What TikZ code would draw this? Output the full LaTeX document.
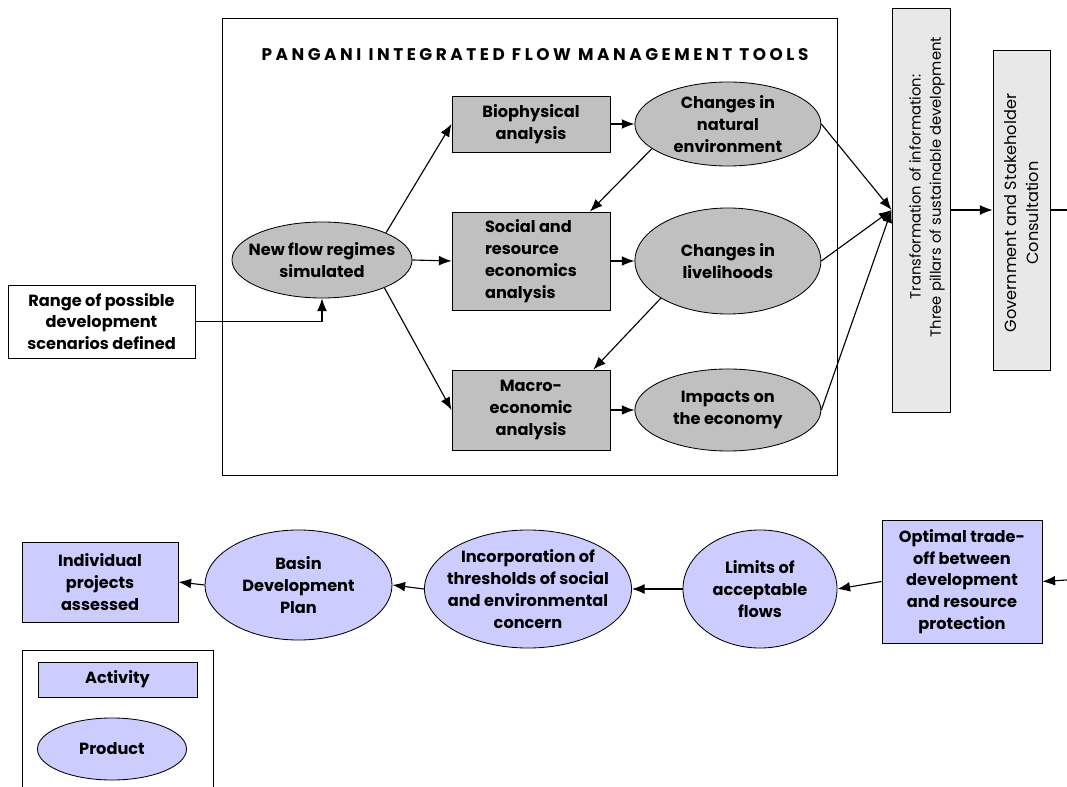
\documentclass[tikz,border=0pt]{standalone}
\usepackage{fontspec}
\setmainfont{Poppins}
\usetikzlibrary{positioning,arrows.meta,shapes.geometric}
\definecolor{toolgray}{HTML}{C0C0C0}
\definecolor{palegray}{HTML}{E8E8E8}
\definecolor{lavender}{HTML}{CCCCFF}
\newcommand{\boxfont}{\fontsize{11.5}{15.5}\selectfont\bfseries}
\tikzset{
  line/.style={-{Latex[length=9pt,width=7pt]}, line width=0.8pt},
  box/.style={draw, align=center, inner sep=2pt, font=\boxfont, line width=0.6pt},
  toolbox/.style={box, fill=toolgray, minimum width=3.95cm},
  actbox/.style={box, fill=lavender},
  oval/.style={ellipse, draw, align=center, inner sep=-30pt, font=\boxfont, line width=0.6pt},
  tooloval/.style={oval, fill=toolgray, minimum width=4.65cm},
  prodoval/.style={oval, fill=lavender},
  tallbox/.style={draw, rotate=90, fill=palegray, line width=0.6pt},
  talltext/.style={rotate=90, align=center, font=\fontsize{10.5}{14.5}\selectfont}
}
\begin{document}
\begin{tikzpicture}[x=0.025cm, y=-0.025cm]
  \useasboundingbox (0,0) rectangle (1067,787);
  % tools frame
  \draw[line width=0.6pt] (222,18) rectangle (837,475);
  \node[font=\fontsize{12}{15.5}\selectfont\bfseries\addfontfeature{LetterSpace=21}] (title) at (535,55) {PANGANI INTEGRATED FLOW MANAGEMENT TOOLS};

  \node[tooloval, minimum width=4.5cm, minimum height=1.9cm] (newflow) at (322,260) {New flow regimes\\simulated};
  \node[toolbox, minimum height=1.4cm] (bio) at (531,124) {Biophysical\\analysis};
  \node[toolbox, minimum height=2.45cm, align=left] (social) at (531,261) {Social and\\resource\\economics\\analysis};
  \node[toolbox, minimum height=2cm] (macro) at (531,410) {Macro-\\economic\\analysis};
  \node[tooloval, minimum height=2.1cm, right=6mm of bio] (nat) {Changes in\\natural\\environment};
  \node[tooloval, minimum height=2.65cm, right=6mm of social] (live) {Changes in\\livelihoods};
  \node[tooloval, minimum height=2.05cm, right=6mm of macro] (impact) {Impacts on\\the economy};

  \node[box, minimum width=4.675cm, minimum height=1.825cm] (range) at (101.5,321.5) {Range of possible\\development\\scenarios defined};
  \node[tallbox, minimum width=10.1cm, minimum height=1.45cm] (transf) at (921,210) {};
  \node[talltext] (transftext) at (927,187) {Transformation of information:\\Three pillars of sustainable development};
  \node[tallbox, minimum width=8cm, minimum height=1.425cm] (gov) at (1021.5,210) {};
  \node[talltext, font=\fontsize{11.5}{15.5}\selectfont] (govtext) at (1021.5,213) {Government and Stakeholder\\Consultation};
  \coordinate (govout) at (1067,210);
  \coordinate (tradein) at (1067,580);

  % bottom row
  \node[actbox, minimum width=4cm, minimum height=3.075cm] (optimal) at (962,581.5) {Optimal trade-\\off between\\development\\and resource\\protection};
  \node[prodoval, minimum width=3.85cm, minimum height=2.95cm] (limits) at (760,589) {Limits of\\acceptable\\flows};
  \node[prodoval, minimum width=5.175cm, minimum height=2.95cm] (incorp) at (528,589) {Incorporation of\\thresholds of social\\and environmental\\concern};
  \node[prodoval, minimum width=4.675cm, minimum height=2.75cm] (basin) at (298.5,585) {Basin\\Development\\Plan};
  \node[actbox, minimum width=3.9cm, minimum height=2cm] (indiv) at (100,582) {Individual\\projects\\assessed};

  % legend
  \draw[line width=0.6pt] (22,787) |- (213,650) -- (213,787);
  \node[actbox, minimum width=3.975cm, minimum height=0.875cm] (activity) at (117.5,679.5) {Activity};
  \node[prodoval, minimum width=3.725cm, minimum height=1.55cm] (product) at (112,749) {Product};

  \draw[line] (range.east) -| (newflow.south);
  \draw[line] (newflow.23) -- (bio.west);
  \draw[line] (newflow.east) -- (social.west);
  \draw[line] (newflow.-24) -- (macro.west);
  \draw[line] (bio.east) -- (nat.west);
  \draw[line] (social.east) -- (live.west);
  \draw[line] (macro.east) -- (impact.west);
  \draw[line] (nat.198) -- (social.40);
  \draw[line] (live.209) -- (macro.33);
  \draw[line] (nat.east) -- (transf.north);
  \draw[line] (live.east) -- (transf.north);
  \draw[line] (impact.east) -- (transf.north);
  \draw[line] (transf.south) -- (gov.north);
  \draw[line width=0.8pt] (gov.south) -- (govout);
  \draw[line] (tradein) -- (optimal.east);
  \draw[line] (optimal.west) -- (limits.east);
  \draw[line] (limits.west) -- (incorp.east);
  \draw[line] (incorp.west) -- (basin.east);
  \draw[line] (basin.west) -- (indiv.east);
\end{tikzpicture}
\end{document}
